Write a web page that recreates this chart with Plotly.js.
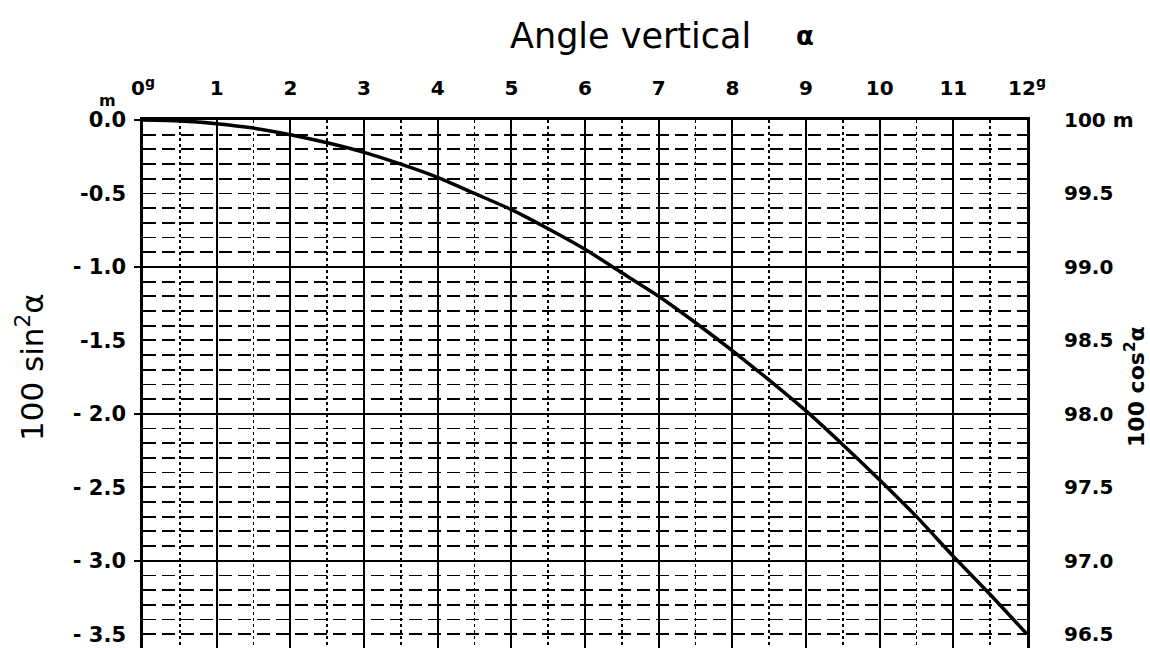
<!DOCTYPE html>
<html>
<head>
<meta charset="utf-8">
<script src="https://cdn.plot.ly/plotly-3.0.1.min.js"></script>
<style>html,body{margin:0;padding:0;background:#fff}#chart{width:1150px;height:648px}</style>
</head>
<body>
<div id="chart"></div>
<script>
// Vertical angle in grads
const angleGrads = [0,0.5,1,1.5,2,2.5,3,3.5,4,4.5,5,5.5,6,6.5,7,7.5,8,8.5,9,9.5,10,10.5,11,11.5,12];
// 100 sin^2(alpha), metres (negative downward)
const sinSquared = [0,-0.006,-0.025,-0.055,-0.10,-0.155,-0.22,-0.30,-0.39,-0.50,-0.61,-0.74,-0.88,-1.04,-1.20,-1.38,-1.57,-1.77,-1.98,-2.21,-2.45,-2.70,-2.97,-3.23,-3.50];
// tick labels
const topTickVals = [0,1,2,3,4,5,6,7,8,9,10,11,12];
const topTickText = ['0<sup>g</sup>','1','2','3','4','5','6','7','8','9','10','11','12<sup>g</sup>'];
const leftTickVals = [0,-0.5,-1,-1.5,-2,-2.5,-3,-3.5];
const leftTickText = ['0.0','-0.5','- 1.0','-1.5','- 2.0','- 2.5','- 3.0','- 3.5'];
const rightTickVals = [100,99.5,99,98.5,98,97.5,97,96.5];
const rightTickText = ['100 m','99.5','99.0','98.5','98.0','97.5','97.0','96.5'];

const yMin = -3.594;
const font = 'DejaVu Sans, Liberation Sans, sans-serif';

const traces = [
  {x: angleGrads, y: sinSquared, type: 'scatter', mode: 'lines', line: {color: '#000', width: 3.5, shape: 'spline', smoothing: 0.6}, hoverinfo: 'skip', xaxis: 'x', yaxis: 'y'},
  {x: [0, 12], y: [0, 0], mode: 'lines', line: {width: 0}, showlegend: false, hoverinfo: 'skip', xaxis: 'x2', yaxis: 'y2'},
  {x: [0, 12], y: [100, 100], mode: 'lines', line: {width: 0}, showlegend: false, hoverinfo: 'skip', xaxis: 'x', yaxis: 'y3'}
];

const layout = {
  width: 1150, height: 648,
  margin: {l: 143, r: 123, t: 120, b: 0},
  paper_bgcolor: '#fff', plot_bgcolor: '#fff',
  showlegend: false,
  font: {family: font, color: '#000'},
  xaxis: {
    range: [0, 12], tickmode: 'linear', tick0: 0, dtick: 1,
    showticklabels: false, ticks: '',
    showgrid: true, gridcolor: '#000', gridwidth: 2,
    minor: {dtick: 0.5, showgrid: true, gridcolor: '#000', gridwidth: 1.6, griddash: '3px,3px'},
    showline: true, linecolor: '#000', linewidth: 3, mirror: true,
    zeroline: false, fixedrange: true
  },
  xaxis2: {
    overlaying: 'x', side: 'top', anchor: 'y2', range: [0, 12],
    tickmode: 'array', tickvals: topTickVals, ticktext: topTickText,
    ticks: '', ticklabelstandoff: 20,
    tickfont: {family: font, size: 20, color: '#000', weight: 'bold'},
    showgrid: false, zeroline: false, showline: false
  },
  yaxis: {
    range: [yMin, 0], tickmode: 'linear', tick0: 0, dtick: 1,
    showticklabels: false, ticks: 'outside', ticklen: 6, tickwidth: 2.2, tickcolor: '#000',
    showgrid: true, gridcolor: '#000', gridwidth: 2.2,
    minor: {dtick: 0.1, showgrid: true, gridcolor: '#000', gridwidth: 1.8, griddash: '13px,6px'},
    showline: true, linecolor: '#000', linewidth: 3, mirror: true,
    zeroline: false, fixedrange: true
  },
  yaxis2: {
    overlaying: 'y', side: 'left', anchor: 'x2', range: [yMin, 0],
    tickmode: 'array', tickvals: leftTickVals, ticktext: leftTickText,
    ticks: '', ticklabelstandoff: 16, ticklabeloverflow: 'allow',
    tickfont: {family: font, size: 21, color: '#000', weight: 'bold'},
    showgrid: false, zeroline: false, showline: false
  },
  yaxis3: {
    overlaying: 'y', side: 'right', anchor: 'x', range: [100 + yMin, 100],
    tickmode: 'array', tickvals: rightTickVals, ticktext: rightTickText,
    ticks: '', ticklabelstandoff: 36, ticklabeloverflow: 'allow',
    tickfont: {family: font, size: 20, color: '#000', weight: 'bold'},
    showgrid: false, zeroline: false, showline: false
  },
  annotations: [
    {text: 'Angle vertical', xref: 'paper', yref: 'paper', x: 0.552, y: 1, yshift: 62,
     xanchor: 'center', yanchor: 'bottom', showarrow: false, font: {family: font, size: 35, color: '#000'}},
    {text: 'α', xref: 'paper', yref: 'paper', x: 0.749, y: 1, yshift: 67,
     xanchor: 'center', yanchor: 'bottom', showarrow: false, font: {family: font, size: 26, color: '#000', weight: 'bold'}},
    {text: 'm', xref: 'paper', yref: 'paper', x: -0.04, y: 1, yshift: 8, xanchor: 'center', yanchor: 'bottom',
     showarrow: false, font: {family: font, size: 16, color: '#000', weight: 'bold'}},
    {text: '100 sin<sup>2</sup>α', xref: 'paper', yref: 'paper', x: -0.128, y: 0.532, xanchor: 'center', yanchor: 'middle',
     textangle: -90, showarrow: false, font: {family: font, size: 31, color: '#000'}},
    {text: '100 cos<sup>2</sup>α', xref: 'paper', yref: 'paper', x: 1.122, y: 0.496, xanchor: 'center', yanchor: 'middle',
     textangle: -90, showarrow: false, font: {family: font, size: 22, color: '#000', weight: 'bold'}}
  ]
};

Plotly.newPlot('chart', traces, layout, {displayModeBar: false, staticPlot: true});
</script>
</body>
</html>
